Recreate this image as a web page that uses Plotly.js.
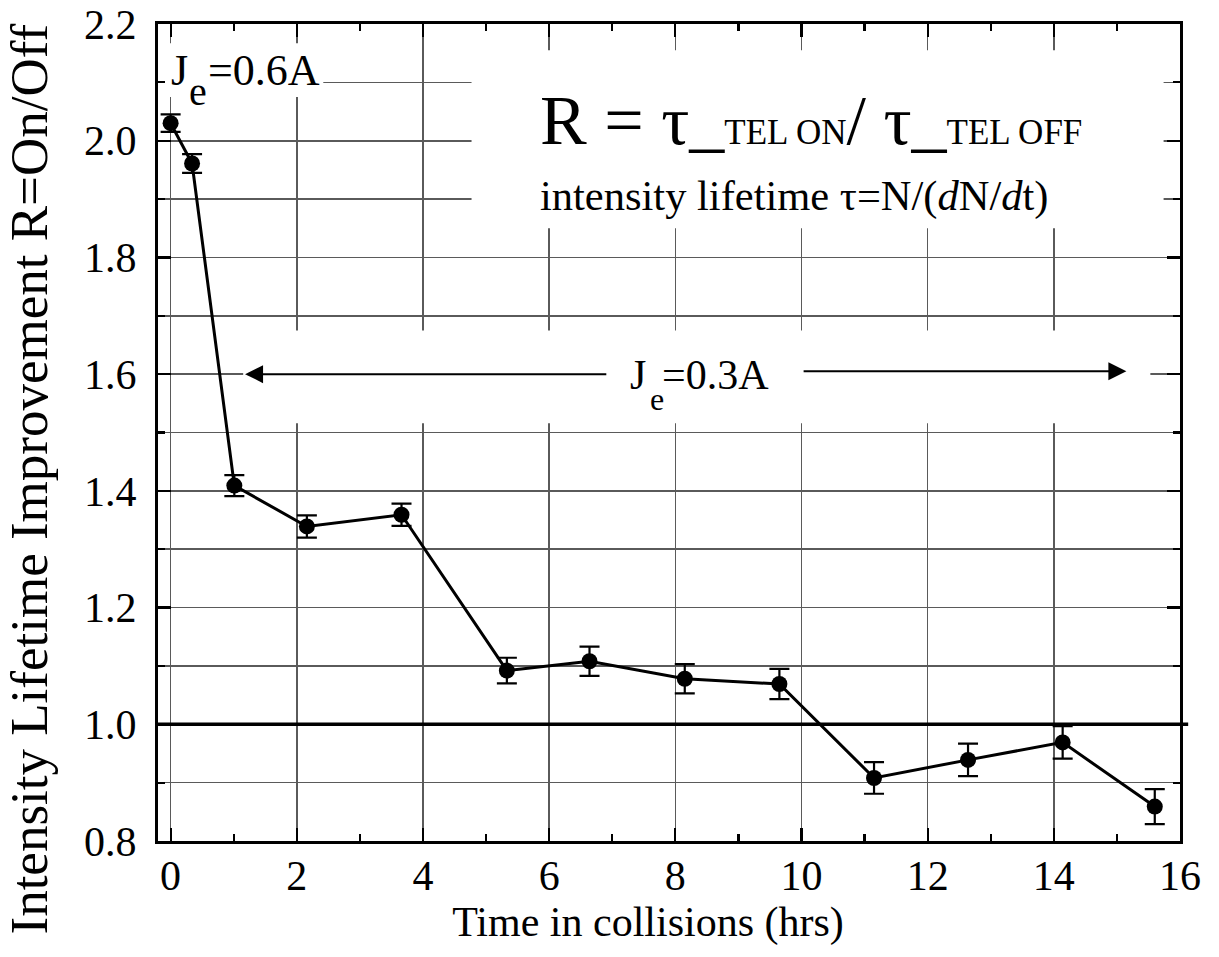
<!DOCTYPE html>
<html>
<head>
<meta charset="utf-8">
<script src="https://cdn.plot.ly/plotly-3.0.1.min.js"></script>
<style>
  html, body { margin: 0; padding: 0; background: #ffffff; }
  #chart { width: 1219px; height: 957px; }
</style>
</head>
<body>
<div id="chart"></div>
<script>
// ---- data ----
const timeHrs  = [0, 0.34, 1.01, 2.16, 3.66, 5.33, 6.64, 8.15, 9.65, 11.15, 12.64, 14.14, 15.6];
const ratioR   = [2.03, 1.961, 1.409, 1.339, 1.359, 1.092, 1.108, 1.078, 1.069, 0.908, 0.939, 0.969, 0.859];
const ratioErr = [0.015, 0.016, 0.018, 0.019, 0.019, 0.022, 0.025, 0.025, 0.026, 0.027, 0.028, 0.028, 0.030];
const xTicks = [0, 2, 4, 6, 8, 10, 12, 14, 16];
const yTicks = [0.8, 1.0, 1.2, 1.4, 1.6, 1.8, 2.0, 2.2];
const referenceRatio = 1.0;
const xTitle = 'Time in collisions (hrs)';
const yTitle = 'Intensity Lifetime Improvement R=On/Off';

const FONT = 'Liberation Serif, Times New Roman, serif';
const NB = '\u00A0';
const ZW = '\u200B';

const trace = {
  x: timeHrs,
  y: ratioR,
  type: 'scatter',
  mode: 'lines+markers',
  line: { color: '#000000', width: 3 },
  marker: { color: '#000000', size: 16 },
  error_y: { type: 'data', array: ratioErr, visible: true, color: '#000000', thickness: 2.2, width: 10 },
  showlegend: false,
  hoverinfo: 'x+y'
};

const gridCol = '#5a5a5a';

const layout = {
  width: 1219,
  height: 957,
  margin: { l: 158, r: 39, t: 24, b: 116, pad: 0 },
  paper_bgcolor: '#ffffff',
  plot_bgcolor: '#ffffff',
  font: { family: FONT, color: '#000000' },
  showlegend: false,
  xaxis: {
    range: [-0.2, 16],
    tickvals: xTicks,
    ticktext: xTicks.map(String),
    ticks: 'inside',
    ticklen: 13,
    tickwidth: 2.2,
    tickcolor: '#000000',
    showline: true,
    linewidth: 3,
    linecolor: '#000000',
    mirror: 'allticks',
    showgrid: true,
    gridcolor: gridCol,
    gridwidth: 1.6,
    zeroline: false,
    tickfont: { family: FONT, size: 42, color: '#000000' },
    ticklabelstandoff: -4,
    minor: { dtick: 1, tick0: 0, ticks: 'inside', ticklen: 7, tickwidth: 2.2, tickcolor: '#000000', showgrid: false },
    title: {
      text: xTitle + NB.repeat(4) + ZW,
      font: { family: FONT, size: 42, color: '#000000' },
      standoff: 8
    }
  },
  yaxis: {
    range: [0.8, 2.2],
    tickvals: yTicks,
    ticktext: yTicks.map(v => v.toFixed(1)),
    ticks: 'inside',
    ticklen: 13,
    tickwidth: 2.2,
    tickcolor: '#000000',
    showline: true,
    linewidth: 3,
    linecolor: '#000000',
    mirror: 'allticks',
    showgrid: true,
    gridcolor: gridCol,
    gridwidth: 1.6,
    zeroline: false,
    tickfont: { family: FONT, size: 42, color: '#000000' },
    ticklabelstandoff: 10,
    minor: { dtick: 0.1, tick0: 0.8, ticks: 'inside', ticklen: 7, tickwidth: 2.2, tickcolor: '#000000', showgrid: true, gridcolor: gridCol, gridwidth: 1.6 }
  },
  shapes: [
    // white backgrounds behind the texts (cover gridlines only)
    { type: 'rect', layer: 'between', xref: 'x', yref: 'y', x0: -0.1, x1: 2.42, y0: 2.075, y1: 2.167, fillcolor: '#ffffff', line: { width: 0 } },
    { type: 'rect', layer: 'between', xref: 'x', yref: 'y', x0: 4.77, x1: 15.74, y0: 1.85, y1: 2.155, fillcolor: '#ffffff', line: { width: 0 } },
    { type: 'rect', layer: 'between', xref: 'x', yref: 'y', x0: 1.15, x1: 15.53, y0: 1.516, y1: 1.675, fillcolor: '#ffffff', line: { width: 0 } },
    // reference line R = 1
    { type: 'line', layer: 'above', xref: 'paper', yref: 'y', x0: 0, x1: 1.008, y0: referenceRatio, y1: referenceRatio, line: { color: '#000000', width: 3.5 } }
  ],
  annotations: [
    // y axis title
    { xref: 'paper', yref: 'paper', x: -0.1262, y: 0.4425, xanchor: 'center', yanchor: 'middle', showarrow: false,
      textangle: -90, text: yTitle, font: { family: FONT, size: 53, color: '#000000' } },
    // J_e = 0.6A
    { xref: 'x', yref: 'y', x: -0.03, y: 2.121, xanchor: 'left', yanchor: 'middle', showarrow: false, text: 'J', font: { family: FONT, size: 44 } },
    { xref: 'x', yref: 'y', x: 0.26, y: 2.084, xanchor: 'left', yanchor: 'middle', showarrow: false, text: 'e', font: { family: FONT, size: 40 } },
    { xref: 'x', yref: 'y', x: 0.56, y: 2.121, xanchor: 'left', yanchor: 'middle', showarrow: false, text: '=0.6A', font: { family: FONT, size: 44 } },
    // formula
    { xref: 'x', yref: 'y', x: 5.82, y: 2.034, xanchor: 'left', yanchor: 'middle', showarrow: false,
      text: 'R = τ_<span style="font-size:35px">TEL ON</span>/ τ_<span style="font-size:35px">TEL OFF</span>',
      font: { family: FONT, size: 70 } },
    { xref: 'x', yref: 'y', x: 5.82, y: 1.905, xanchor: 'left', yanchor: 'middle', showarrow: false,
      text: 'intensity lifetime τ=N/(<i>d</i>N/<i>d</i>t)',
      font: { family: FONT, size: 42.5 } },
    // J_e = 0.3A
    { xref: 'x', yref: 'y', x: 7.25, y: 1.598, xanchor: 'left', yanchor: 'middle', showarrow: false, text: 'J', font: { family: FONT, size: 42 } },
    { xref: 'x', yref: 'y', x: 7.56, y: 1.557, xanchor: 'left', yanchor: 'middle', showarrow: false, text: 'e', font: { family: FONT, size: 32 } },
    { xref: 'x', yref: 'y', x: 7.75, y: 1.598, xanchor: 'left', yanchor: 'middle', showarrow: false, text: '=0.3A', font: { family: FONT, size: 42 } },
    // arrows
    { xref: 'x', yref: 'y', axref: 'x', ayref: 'y', x: 1.18, y: 1.6, ax: 6.93, ay: 1.6, text: '', showarrow: true,
      arrowhead: 2, arrowsize: 1.8, arrowwidth: 2, arrowcolor: '#000000', standoff: 0, startstandoff: 0 },
    { xref: 'x', yref: 'y', axref: 'x', ayref: 'y', x: 15.15, y: 1.605, ax: 10.01, ay: 1.605, text: '', showarrow: true,
      arrowhead: 2, arrowsize: 1.8, arrowwidth: 2, arrowcolor: '#000000', standoff: 0, startstandoff: 0 }
  ]
};

Plotly.newPlot('chart', [trace], layout, { displayModeBar: false, staticPlot: true });
</script>
</body>
</html>
